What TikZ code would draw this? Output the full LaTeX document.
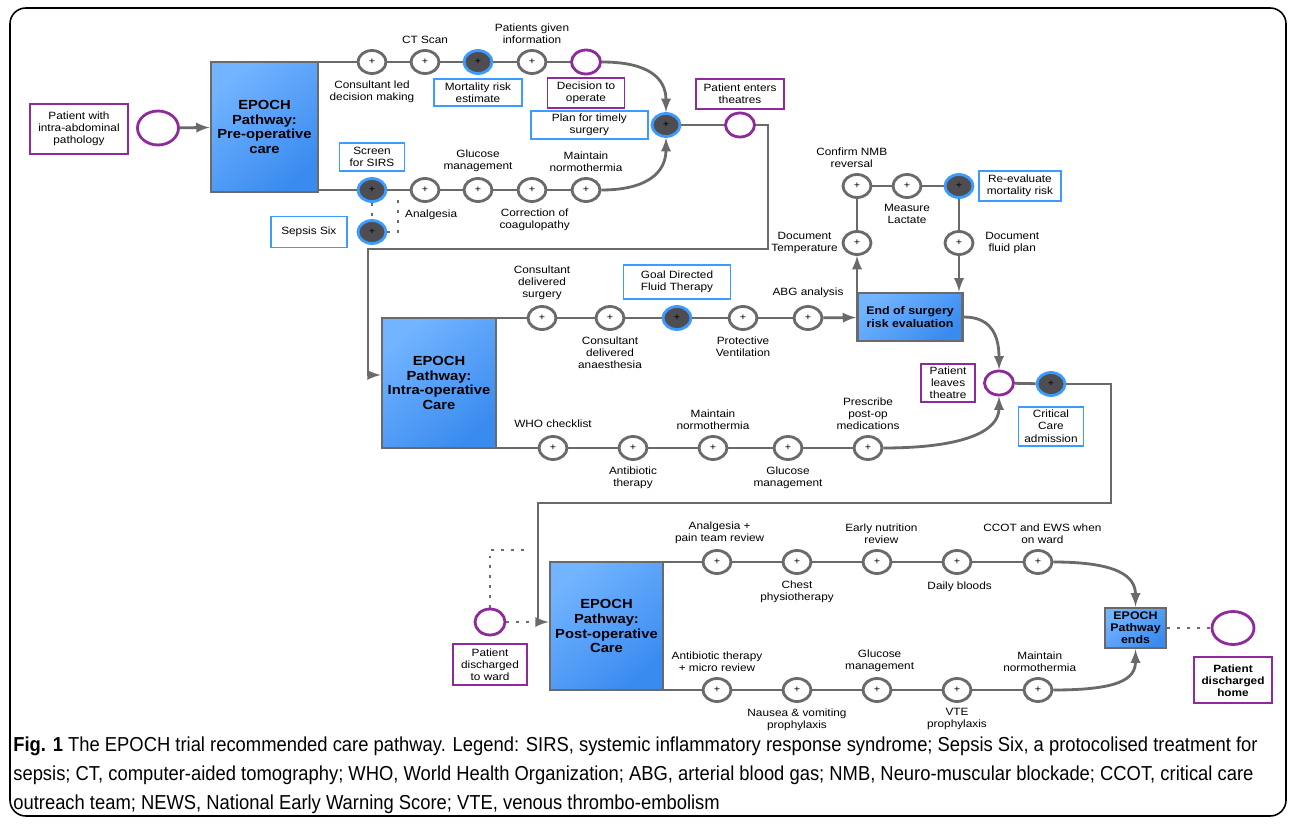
\documentclass[tikz,border=0pt]{standalone}
\usepackage{fontspec}
\setmainfont{Liberation Sans}[FakeStretch=1.12]
\newfontfamily\capfont{Liberation Sans}[FakeStretch=0.91]
\usepackage{tikz}
\usetikzlibrary{arrows,
                shapes.geometric,
                positioning}
\definecolor{linegray}{HTML}{6A6A6A}
\definecolor{pathpurple}{HTML}{8E2A9C}
\definecolor{noteblue}{HTML}{3C9BFF}
\definecolor{keyfill}{HTML}{4D4D52}
\definecolor{boxlight}{HTML}{72B4FF}
\definecolor{boxdark}{HTML}{3A8BF0}

\begin{document}
\begin{tikzpicture}[x=0.02cm, y=-0.02cm]

\tikzstyle{lbl}=[align=center, inner sep=1pt, font=\fontsize{6}{6.9}\selectfont]
\tikzstyle{act}=[ellipse, draw=linegray, line width=1.6pt, fill=white, minimum width=0.56cm, minimum height=0.46cm, inner sep=0pt, font=\fontsize{5.5}{5.5}\selectfont]
\tikzstyle{key}=[act, draw=noteblue, fill=keyfill]
\tikzstyle{event}=[ellipse, draw=pathpurple, line width=1.6pt, fill=white, minimum width=0.58cm, minimum height=0.48cm, inner sep=0pt]
\tikzstyle{bigevent}=[event, minimum width=0.82cm, minimum height=0.68cm]
\tikzstyle{note}=[lbl, rectangle, draw=noteblue, line width=1.1pt, fill=white]
\tikzstyle{pnote}=[lbl, rectangle, draw=pathpurple, line width=1.1pt, fill=white]
\tikzstyle{phase}=[rectangle, draw=linegray, line width=1.6pt, top color=boxlight, bottom color=boxdark, shading angle=40, align=center, inner sep=1pt, font=\fontsize{7.5}{8.5}\selectfont\bfseries]
\tikzstyle{flow}=[draw=linegray, line width=1.6pt]
\tikzstyle{arrow}=[flow, ->, >=latex]
\tikzstyle{dotline}=[draw=linegray, line width=1.6pt, dash pattern=on 1.6pt off 4pt]

\useasboundingbox (0,0) rectangle (1292,827);
\draw[line width=0.9pt, rounded corners=9pt] (10,8) rectangle (1286,816);

% pre-operative care
\node[pnote, minimum width=1.96cm, minimum height=1cm] (patient) at (79,129) {Patient with\\intra-abdominal\\pathology};
\node[bigevent] (start) at (158,128) {};
\node[phase, minimum width=2.14cm, minimum height=2.6cm] (pre) at (264.5,127) {EPOCH\\Pathway:\\Pre-operative\\care};

\node[act] (t1) at (372,62) {+};
\node[act] (t2) at (425,62) {+};
\node[key] (t3) at (478,62) {+};
\node[act] (t4) at (532,62) {+};
\node[event] (decide) at (586,62) {};
\node[lbl, below=2pt of t1] (t1l) {Consultant led\\decision making};
\node[lbl, above=2pt of t2] (t2l) {CT Scan};
\node[note, below=2pt of t3, minimum width=1.76cm, minimum height=0.54cm] (t3l) {Mortality risk\\estimate};
\node[lbl, above=2pt of t4] (t4l) {Patients given\\information};
\node[pnote, below=1pt of decide, minimum width=1.54cm, minimum height=0.6cm] (decidel) {Decision to\\operate};

\node[key] (b1) at (372,190) {+};
\node[act] (b2) at (425,190) {+};
\node[act] (b3) at (478,190) {+};
\node[act] (b4) at (532,190) {+};
\node[act] (b5) at (586,190) {+};
\node[note, above=3pt of b1, minimum width=1.3cm, minimum height=0.56cm] (b1l) {Screen\\for SIRS};
\node[lbl, below=3pt of b2, xshift=3.5pt] (b2l) {Analgesia};
\node[lbl, above=2pt of b3] (b3l) {Glucose\\management};
\node[lbl, below=2pt of b4, xshift=1.5pt] (b4l) {Correction of\\coagulopathy};
\node[lbl, above=2pt of b5] (b5l) {Maintain\\normothermia};
\node[key] (sepsis) at (372,232) {+};
\node[note, left=5pt of sepsis, minimum width=1.52cm, minimum height=0.62cm] (sepsisl) {Sepsis Six};

\node[key] (plan) at (666,125) {+};
\node[note, left=1pt of plan, minimum width=2.34cm, minimum height=0.56cm] (planl) {Plan for timely\\surgery};
\node[event] (enter) at (740,125) {};
\node[pnote, above=1pt of enter, minimum width=1.76cm, minimum height=0.6cm] (enterl) {Patient enters\\theatres};

\draw[arrow] (start) -- (pre);
\draw[flow] (pre.north east |- t1) -- (t1);
\draw[flow] (t1) -- (t2);
\draw[flow] (t2) -- (t3);
\draw[flow] (t3) -- (t4);
\draw[flow] (t4) -- (decide);
\draw[arrow] (decide.east) .. controls +(45,0) and +(0,-35) .. (plan.north);
\draw[flow] (pre.south east |- b1) -- (b1);
\draw[flow] (b1) -- (b2);
\draw[flow] (b2) -- (b3);
\draw[flow] (b3) -- (b4);
\draw[flow] (b4) -- (b5);
\draw[arrow] (b5.east) .. controls +(45,0) and +(0,35) .. (plan.south);
\draw[dotline] (b1) -- (sepsis);
\draw[dotline] (sepsis.east) -| (398,196);
\draw[flow] (plan) -- (enter);

% intra-operative care
\node[phase, minimum width=2.28cm, minimum height=2.6cm] (intra) at (439,383) {EPOCH\\Pathway:\\Intra-operative\\Care};
\draw[arrow] (enter.east) -| (768,249) -| (368,375) -- (intra.west |- 0,375);

\node[act] (i1) at (542,318) {+};
\node[act] (i2) at (610,318) {+};
\node[key] (i3) at (677,318) {+};
\node[act] (i4) at (743,318) {+};
\node[act] (i5) at (808,318) {+};
\node[lbl, above=2pt of i1] (i1l) {Consultant\\delivered\\surgery};
\node[lbl, below=2pt of i2] (i2l) {Consultant\\delivered\\anaesthesia};
\node[note, above=3pt of i3, minimum width=2.14cm, minimum height=0.68cm] (i3l) {Goal Directed\\Fluid Therapy};
\node[lbl, below=2pt of i4] (i4l) {Protective\\Ventilation};
\node[lbl, above=3pt of i5] (i5l) {ABG analysis};

\node[phase, minimum width=2.1cm, minimum height=0.96cm, font=\fontsize{6.3}{7}\selectfont\bfseries] (endsurg) at (910,317) {End of surgery\\risk evaluation};

\node[act] (d1) at (857,243) {+};
\node[act] (d2) at (857,186) {+};
\node[act] (d3) at (907,186) {+};
\node[key] (d4) at (959,186) {+};
\node[act] (d5) at (959,243) {+};
\node[lbl, left=1pt of d1] (d1l) {Document\\Temperature};
\node[lbl, above=2pt of d2, xshift=-3pt] (d2l) {Confirm NMB\\reversal};
\node[lbl, below=2pt of d3] (d3l) {Measure\\Lactate};
\node[note, right=2pt of d4, minimum width=1.64cm, minimum height=0.6cm] (d4l) {Re-evaluate\\mortality risk};
\node[lbl, right=5pt of d5] (d5l) {Document\\fluid plan};

\node[act] (w1) at (553,448) {+};
\node[act] (w2) at (633,448) {+};
\node[act] (w3) at (713,448) {+};
\node[act] (w4) at (788,448) {+};
\node[act] (w5) at (868,448) {+};
\node[lbl, above=3pt of w1] (w1l) {WHO checklist};
\node[lbl, below=2pt of w2] (w2l) {Antibiotic\\therapy};
\node[lbl, above=2pt of w3] (w3l) {Maintain\\normothermia};
\node[lbl, below=2pt of w4] (w4l) {Glucose\\management};
\node[lbl, above=2pt of w5] (w5l) {Prescribe\\post-op\\medications};

\node[event] (leave) at (999,383) {};
\node[pnote, left=4pt of leave, minimum width=1.08cm, minimum height=0.76cm] (leavel) {Patient\\leaves\\theatre};
\node[key] (crit) at (1051,384) {+};
\node[note, below=5pt of crit, minimum width=1.3cm, minimum height=0.78cm] (critl) {Critical\\Care\\admission};

\draw[flow] (intra.north east |- i1) -- (i1);
\draw[flow] (i1) -- (i2);
\draw[flow] (i2) -- (i3);
\draw[flow] (i3) -- (i4);
\draw[flow] (i4) -- (i5);
\draw[arrow] (i5) -- (endsurg);
\draw[arrow] (d1 |- endsurg.north) -- (d1);
\draw[flow] (d1) -- (d2);
\draw[flow] (d2) -- (d3);
\draw[flow] (d3) -- (d4);
\draw[flow] (d4) -- (d5);
\draw[arrow] (d5) -- (d5 |- endsurg.north);
\draw[flow] (intra.south east |- w1) -- (w1);
\draw[flow] (w1) -- (w2);
\draw[flow] (w2) -- (w3);
\draw[flow] (w3) -- (w4);
\draw[flow] (w4) -- (w5);
\draw[arrow] (w5.east) .. controls +(80,0) and +(0,35) .. (leave.south);
\draw[arrow] (endsurg.east) .. controls +(30,0) and +(0,-30) .. (leave.north);
\draw[flow] (leave) -- (crit);

% post-operative care
\node[phase, minimum width=2.26cm, minimum height=2.56cm] (post) at (606.5,626) {EPOCH\\Pathway:\\Post-operative\\Care};
\draw[arrow] (crit.east) -| (1111,503) -| (538,622) -- (post.west |- 0,622);

\node[act] (q1) at (717,562) {+};
\node[act] (q2) at (797,562) {+};
\node[act] (q3) at (877,562) {+};
\node[act] (q4) at (957,562) {+};
\node[act] (q5) at (1038,562) {+};
\node[lbl, above=2pt of q1, xshift=1.5pt] (q1l) {Analgesia +\\pain team review};
\node[lbl, below=2pt of q2] (q2l) {Chest\\physiotherapy};
\node[lbl, above=2pt of q3, xshift=2.5pt] (q3l) {Early nutrition\\review};
\node[lbl, below=3pt of q4, xshift=1.5pt] (q4l) {Daily bloods};
\node[lbl, above=2pt of q5, xshift=2.5pt] (q5l) {CCOT and EWS when\\on ward};

\node[act] (r1) at (717,690) {+};
\node[act] (r2) at (797,690) {+};
\node[act] (r3) at (877,690) {+};
\node[act] (r4) at (957,690) {+};
\node[act] (r5) at (1038,690) {+};
\node[lbl, above=2pt of r1] (r1l) {Antibiotic therapy\\+ micro review};
\node[lbl, below=2pt of r2] (r2l) {Nausea \& vomiting\\prophylaxis};
\node[lbl, above=2pt of r3, xshift=1.5pt] (r3l) {Glucose\\management};
\node[lbl, below=2pt of r4] (r4l) {VTE\\prophylaxis};
\node[lbl, above=2pt of r5, xshift=1pt] (r5l) {Maintain\\normothermia};

\node[phase, minimum width=1.22cm, minimum height=0.8cm, font=\fontsize{6.3}{6.9}\selectfont\bfseries] (done) at (1135.5,628) {EPOCH\\Pathway\\ends};
\node[bigevent, minimum width=0.84cm, minimum height=0.66cm] (home) at (1233,628) {};
\node[pnote, below=6pt of home, minimum width=1.56cm, minimum height=0.92cm, font=\fontsize{6}{6.9}\selectfont\bfseries] (homel) {Patient\\discharged\\home};
\node[event, minimum width=0.6cm, minimum height=0.52cm] (ward) at (490,622) {};
\node[pnote, below=4pt of ward, minimum width=1.48cm, minimum height=0.82cm] (wardl) {Patient\\discharged\\to ward};

\draw[flow] (post.north east |- q1) -- (q1);
\draw[flow] (q1) -- (q2);
\draw[flow] (q2) -- (q3);
\draw[flow] (q3) -- (q4);
\draw[flow] (q4) -- (q5);
\draw[arrow] (q5.east) .. controls +(65,0) and +(0,-30) .. (done.north);
\draw[flow] (post.south east |- r1) -- (r1);
\draw[flow] (r1) -- (r2);
\draw[flow] (r2) -- (r3);
\draw[flow] (r3) -- (r4);
\draw[flow] (r4) -- (r5);
\draw[arrow] (r5.east) .. controls +(65,0) and +(0,30) .. (done.south);
\draw[dotline] (done) -- (home);
\draw[dotline] (ward.east) -- (534,622);
\draw[dotline] (ward.north) |- (528,550);

% caption
\node[anchor=west, align=left, inner sep=0pt, font=\capfont\fontsize{11.5}{16.4}\selectfont] (caption) at (13,775)
  {\textbf{Fig. 1} The EPOCH trial recommended care pathway. Legend: SIRS, systemic inflammatory response syndrome; Sepsis Six, a protocolised treatment for\\
   sepsis; CT, computer-aided tomography; WHO, World Health Organization; ABG, arterial blood gas; NMB, Neuro-muscular blockade; CCOT, critical care\\
   outreach team; NEWS, National Early Warning Score; VTE, venous thrombo-embolism};
\end{tikzpicture}
\end{document}
